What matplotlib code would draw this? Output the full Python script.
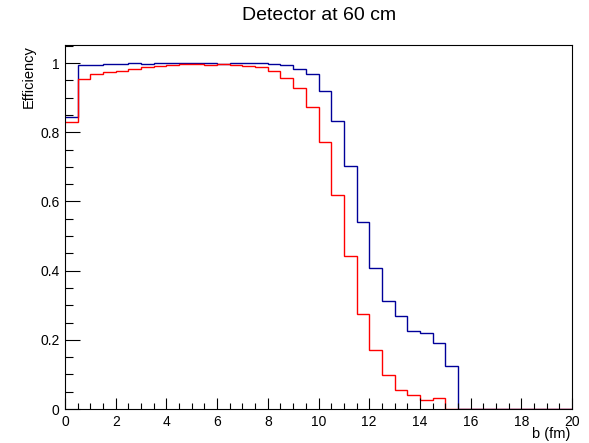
import numpy as np
import matplotlib
matplotlib.use("Agg")
import matplotlib.pyplot as plt
from matplotlib.ticker import MultipleLocator

plt.rcParams['font.family'] = ['Liberation Sans', 'DejaVu Sans']

# bin edges: 40 bins of 0.5 fm
edges = np.arange(0, 20.5, 0.5)

# efficiency per bin
eff_blue = [0.845, 0.995, 0.995, 0.996, 0.997, 1.000, 0.997, 0.999, 0.999, 1.000,
            0.999, 0.999, 0.998, 0.999, 0.999, 0.999, 0.998, 0.994, 0.984, 0.967,
            0.920, 0.832, 0.703, 0.540, 0.408, 0.312, 0.269, 0.225, 0.219, 0.190,
            0.124, 0, 0, 0, 0, 0, 0, 0, 0, 0]
eff_red = [0.830, 0.953, 0.967, 0.974, 0.977, 0.984, 0.988, 0.990, 0.993, 0.996,
           0.996, 0.993, 0.997, 0.993, 0.990, 0.988, 0.977, 0.956, 0.927, 0.874,
           0.771, 0.618, 0.442, 0.274, 0.171, 0.098, 0.055, 0.040, 0.026, 0.031,
           0, 0, 0, 0, 0, 0, 0, 0, 0, 0]

fig = plt.figure(figsize=(5.89, 4.43), dpi=100)
ax = fig.add_axes([0.1104, 0.0767, 0.8607, 0.8217])

ax.stairs(eff_blue, edges, baseline=None, color='#000099', lw=1)
ax.stairs(eff_red, edges, baseline=None, color='#ff0000', lw=1)

ax.set_xlim(0, 20)
ax.set_ylim(0, 1.052)

ax.xaxis.set_major_locator(MultipleLocator(2))
ax.xaxis.set_minor_locator(MultipleLocator(0.5))
ax.yaxis.set_major_locator(MultipleLocator(0.2))
ax.yaxis.set_minor_locator(MultipleLocator(0.05))
ax.xaxis.set_major_formatter(plt.FuncFormatter(lambda v, p: '%g' % v))
ax.yaxis.set_major_formatter(plt.FuncFormatter(lambda v, p: '%g' % round(v, 2)))

ax.tick_params(axis='x', which='major', direction='in', length=8, width=0.8, labelsize=10, pad=4)
ax.tick_params(axis='x', which='minor', direction='in', length=4, width=0.8)
ax.tick_params(axis='y', which='major', direction='in', length=11, width=0.8, labelsize=10, pad=4)
ax.tick_params(axis='y', which='minor', direction='in', length=5.5, width=0.8)

for s in ax.spines.values():
    s.set_linewidth(0.8)

ax.set_xlabel('b (fm)', loc='right', fontsize=10.5, labelpad=-1)
ax.xaxis.label.set_x(0.996)
ax.set_ylabel('Efficiency', loc='top', fontsize=10.5, labelpad=3)
fig.text(0.541, 0.964, 'Detector at 60 cm', fontsize=14, ha='center', va='center')

fig.savefig('out.png', dpi=100)
